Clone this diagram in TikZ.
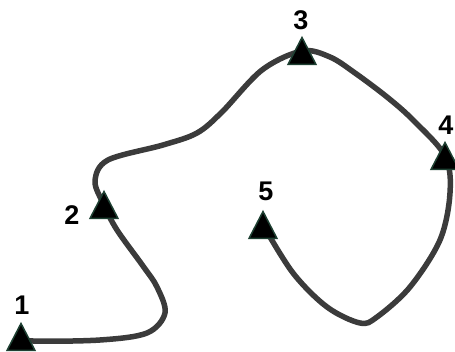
\documentclass[tikz,border=0pt]{standalone}
\usepackage{fontspec}
\setmainfont{Liberation Sans}
\definecolor{curvegray}{HTML}{3B3B3B}
\definecolor{markeredge}{HTML}{1E4032}
\tikzset{
  route/.style={draw=curvegray, line width=5.5pt, line cap=round, line join=round},
  marker/.style={fill=black, draw=markeredge, line width=1.5pt, line join=miter},
  lbl/.style={font=\bfseries\fontsize{27}{27}\selectfont, inner sep=0pt, text=black}
}
\newcommand\trimark[1]{\path[marker] (#1) ++(0,-13.5) -- ++(14,27) -- ++(-28,0) -- cycle;}
\begin{document}
\begin{tikzpicture}[x=1pt,y=-1pt]
\useasboundingbox (0,0) rectangle (455,352);
\clip (0,0) rectangle (455,352);
% marker centres
\coordinate (t1) at (21,337);
\coordinate (t2) at (104,205);
\coordinate (t3) at (302,51);
\coordinate (t4) at (445,156);
\coordinate (t5) at (263,225);
% route way points
\coordinate (a1) at (33,341);
\coordinate (a2) at (100,340);
\coordinate (a3) at (147,333);
\coordinate (a4) at (165,313);
\coordinate (a5) at (157,287);
\coordinate (a6) at (143,266);
\coordinate (a7) at (117,230);
\coordinate (b1) at (95,181);
\coordinate (b2) at (108,160);
\coordinate (b4) at (163,145);
\coordinate (b5) at (197,133);
\coordinate (b6) at (222,112);
\coordinate (b7) at (262,70);
\coordinate (c1) at (330,57);
\coordinate (c2) at (355,73);
\coordinate (c3) at (387,97);
\coordinate (c4) at (413,120);
\coordinate (c5) at (450,193);
\coordinate (c6) at (440,240);
\coordinate (c7) at (410,287);
\coordinate (c8) at (377,317);
\coordinate (c9) at (360,323);
\coordinate (c10) at (327,307);
\coordinate (c11) at (293,273);
\draw[route] plot[smooth, tension=0.55] coordinates {(t1) (a1) (a2) (a3) (a4) (a5) (a6) (a7) (t2) (b1) (b2) (b4) (b5) (b6) (b7) (t3) (c1) (c2) (c3) (c4) (t4) (c5) (c6) (c7) (c8) (c9) (c10) (c11) (t5)};
\trimark{t1}
\trimark{t2}
\trimark{t3}
\trimark{t4}
\trimark{t5}
\node[lbl] (l1) at (22,305) {1};
\node[lbl] (l2) at (72,215) {2};
\node[lbl] (l3) at (301,20) {3};
\node[lbl] (l4) at (446,125) {4};
\node[lbl] (l5) at (266,191) {5};
\end{tikzpicture}
\end{document}
